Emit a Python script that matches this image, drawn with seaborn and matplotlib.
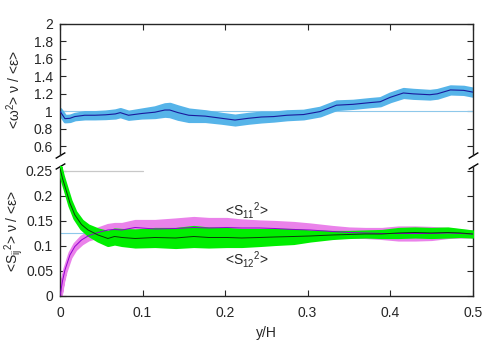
import numpy as np
import matplotlib
matplotlib.use("Agg")
import matplotlib.pyplot as plt
from matplotlib.ticker import FuncFormatter
import seaborn as sns

# <omega^2> nu / <eps>  (top panel)
x_w = [0, 0.006, 0.012, 0.018, 0.03, 0.042, 0.055, 0.067, 0.073, 0.083, 0.099, 0.115,
       0.127, 0.133, 0.143, 0.156, 0.176, 0.196, 0.212, 0.228, 0.244, 0.259, 0.275,
       0.295, 0.315, 0.335, 0.355, 0.376, 0.388, 0.4, 0.416, 0.428, 0.448, 0.457,
       0.473, 0.489, 0.5]
w_mean = [1.0, 0.916, 0.92, 0.94, 0.955, 0.955, 0.96, 0.97, 0.985, 0.955, 0.975, 0.99,
          1.015, 1.015, 0.985, 0.955, 0.945, 0.92, 0.90, 0.92, 0.935, 0.94, 0.955,
          0.963, 0.997, 1.07, 1.08, 1.10, 1.11, 1.16, 1.21, 1.20, 1.19, 1.20,
          1.245, 1.24, 1.22]
w_err = [0.02, 0.025, 0.025, 0.025, 0.03, 0.03, 0.032, 0.035, 0.035, 0.035, 0.04, 0.05,
         0.06, 0.065, 0.065, 0.06, 0.05, 0.045, 0.045, 0.045, 0.045, 0.04, 0.04,
         0.038, 0.038, 0.038, 0.035, 0.035, 0.035, 0.038, 0.04, 0.04, 0.038, 0.038,
         0.035, 0.035, 0.035]

# <S_ij^2> nu / <eps>  (bottom panel)
x_s = [0, 0.003, 0.006, 0.012, 0.018, 0.026, 0.034, 0.046, 0.058, 0.066, 0.075, 0.091,
       0.115, 0.14, 0.162, 0.18, 0.202, 0.22, 0.242, 0.26, 0.283, 0.303, 0.33, 0.35,
       0.37, 0.39, 0.41, 0.43, 0.45, 0.47, 0.485, 0.5]
s11 = [0.0, 0.03, 0.052, 0.082, 0.099, 0.112, 0.12, 0.127, 0.132, 0.133, 0.132, 0.137,
       0.134, 0.135, 0.137, 0.136, 0.137, 0.136, 0.136, 0.135, 0.133, 0.132, 0.129,
       0.127, 0.126, 0.125, 0.125, 0.125, 0.125, 0.126, 0.125, 0.124]
s11_err = [0.001, 0.002, 0.003, 0.004, 0.005, 0.006, 0.006, 0.007, 0.009, 0.01, 0.011,
           0.012, 0.015, 0.017, 0.018, 0.017, 0.016, 0.014, 0.012, 0.012, 0.012, 0.01,
           0.008, 0.007, 0.007, 0.008, 0.011, 0.011, 0.01, 0.007, 0.005, 0.004]
s12 = [0.255, 0.235, 0.219, 0.186, 0.162, 0.143, 0.132, 0.122, 0.115, 0.119, 0.117,
       0.115, 0.117, 0.116, 0.119, 0.117, 0.117, 0.116, 0.117, 0.118, 0.119, 0.120,
       0.122, 0.123, 0.124, 0.124, 0.126, 0.127, 0.126, 0.127, 0.126, 0.124]
s12_err = [0.003, 0.004, 0.004, 0.005, 0.006, 0.007, 0.008, 0.01, 0.012, 0.013, 0.014,
           0.015, 0.016, 0.017, 0.018, 0.017, 0.016, 0.015, 0.014, 0.013, 0.012, 0.008,
           0.005, 0.004, 0.004, 0.005, 0.007, 0.007, 0.007, 0.007, 0.005, 0.004]

x_ticks = [0, 0.1, 0.2, 0.3, 0.4, 0.5]
top_yticks = [0.6, 0.8, 1, 1.2, 1.4, 1.6, 1.8, 2]
bot_yticks = [0, 0.05, 0.1, 0.15, 0.2, 0.25]

sns.set_style("ticks")
plt.rcParams['font.family'] = ['Liberation Sans', 'DejaVu Sans']
plt.rcParams['font.size'] = 10
plt.rcParams['mathtext.fontset'] = 'custom'
plt.rcParams['mathtext.rm'] = 'Liberation Sans'
plt.rcParams['mathtext.it'] = 'Liberation Sans:italic'
plt.rcParams['mathtext.default'] = 'regular'

fig = plt.figure(figsize=(4.98, 3.49), dpi=100)
ax_top = fig.add_axes([0.1205, 0.5559, 0.8287, 0.3754])
ax_bot = fig.add_axes([0.1205, 0.1519, 0.8287, 0.3725])

fmt = FuncFormatter(lambda v, p: '%g' % v)


def band(ax, x, m, e, color, z):
    # gnuplot-like thick band: fill plus a fat edge in the same colour
    m = np.array(m)
    e = np.array(e)
    ax.fill_between(x, m - e, m + e, color=color, ec=color, lw=3,
                    joinstyle='round', capstyle='round', zorder=z)


# top panel
ax_top.axhline(1, color='#8ec8ea', lw=0.8, zorder=1)
band(ax_top, x_w, w_mean, w_err, '#56b4e9', 2)
sns.lineplot(x=x_w, y=w_mean, ax=ax_top, color='#1a1a9c', lw=0.8, zorder=3)
ax_top.set_xlim(0, 0.5)
ax_top.set_ylim(0.5, 2)
ax_top.set_xticks(x_ticks)
ax_top.set_yticks(top_yticks)
ax_top.yaxis.set_major_formatter(fmt)
ax_top.spines['bottom'].set_visible(False)
ax_top.tick_params(direction='in', length=4, width=0.8, top=True, bottom=False,
                   labelbottom=False, right=True, left=True, pad=5)
ax_top.set_ylabel(r'<$\omega^2$> $\nu$ / <$\varepsilon$>')
ax_top.yaxis.set_label_coords(-0.09, 0.5)

# bottom panel
ax_bot.axhline(0.125, color='#8ec8ea', lw=0.8, zorder=1)
ax_bot.plot([0, 0.1], [0.25, 0.25], color='#c8c8c8', lw=0.9, zorder=1)
band(ax_bot, x_s, s11, s11_err, '#ea82ea', 2)
band(ax_bot, x_s, s12, s12_err, '#00ee00', 3)
sns.lineplot(x=x_s, y=s11, ax=ax_bot, color='#9400d3', lw=0.7, zorder=4)
sns.lineplot(x=x_s, y=s12, ax=ax_bot, color='#0a3a0a', lw=0.7, zorder=4)
ax_bot.set_xlim(0, 0.5)
ax_bot.set_ylim(0, 0.26)
ax_bot.set_xticks(x_ticks)
ax_bot.set_yticks(bot_yticks)
ax_bot.xaxis.set_major_formatter(fmt)
ax_bot.yaxis.set_major_formatter(fmt)
ax_bot.spines['top'].set_visible(False)
ax_bot.tick_params(direction='in', length=4, width=0.8, top=False, right=True, pad=5)
ax_bot.tick_params(axis='x', pad=7)
ax_bot.set_ylabel(r'<$S_{ij}{}^2$> $\nu$ / <$\varepsilon$>')
ax_bot.yaxis.set_label_coords(-0.085, 0.5)
ax_bot.set_xlabel('y/H')
ax_bot.xaxis.set_label_coords(0.5, -0.23)
ax_bot.text(0.2, 0.17, r'<$S_{11}{}^2$>', ha='left', va='center')
ax_bot.text(0.2, 0.072, r'<$S_{12}{}^2$>', ha='left', va='center')

for ax in (ax_top, ax_bot):
    for s in ax.spines.values():
        s.set_linewidth(1.0)

# break marks
brk = dict(marker=[(-1, -0.6), (1, 0.6)], markersize=7, linestyle='none',
           color='k', mec='k', mew=1, clip_on=False)
ax_top.plot([0, 1], [0, 0], transform=ax_top.transAxes, **brk)
ax_bot.plot([0, 1], [1, 1], transform=ax_bot.transAxes, **brk)

fig.savefig('out.png', dpi=100)
